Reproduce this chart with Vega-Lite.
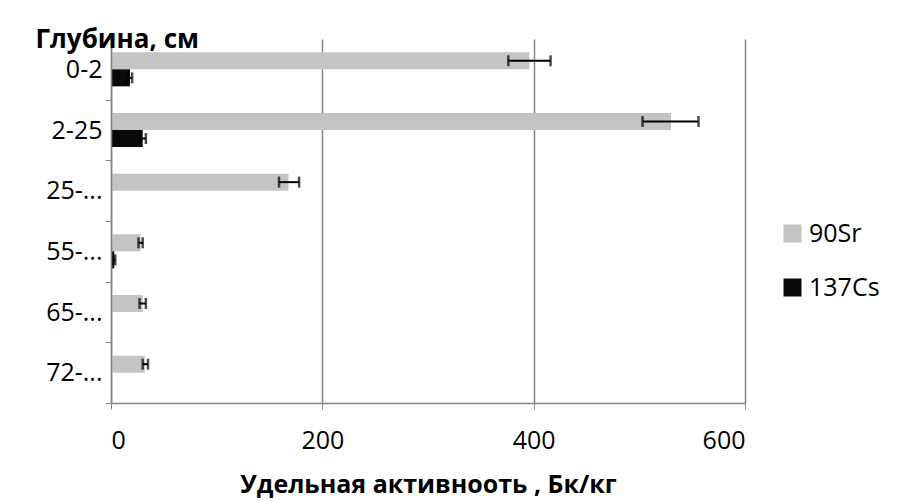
{
  "$schema": "https://vega.github.io/schema/vega-lite/v6.json",
  "width": 634,
  "height": 364,
  "autosize": {"type": "none"},
  "padding": {"left": 111, "top": 39, "right": 153, "bottom": 98},
  "background": "white",
  "config": {"view": {"stroke": null}, "font": "Open Sans"},
  "data": {
    "values": [
      {"depth": "0-2", "series": "90Sr", "value": 396, "lo": 376, "hi": 416},
      {"depth": "0-2", "series": "137Cs", "value": 18, "lo": 16, "hi": 20},
      {"depth": "2-25", "series": "90Sr", "value": 530, "lo": 503, "hi": 556},
      {"depth": "2-25", "series": "137Cs", "value": 30, "lo": 27, "hi": 33},
      {"depth": "25-...", "series": "90Sr", "value": 168, "lo": 159, "hi": 178},
      {"depth": "55-...", "series": "90Sr", "value": 28, "lo": 26, "hi": 30},
      {"depth": "55-...", "series": "137Cs", "value": 3, "lo": 2, "hi": 4},
      {"depth": "65-...", "series": "90Sr", "value": 30, "lo": 27, "hi": 33},
      {"depth": "72-...", "series": "90Sr", "value": 32, "lo": 30, "hi": 35}
    ]
  },
  "encoding": {
    "y": {
      "field": "depth",
      "type": "nominal",
      "sort": ["0-2", "2-25", "25-...", "55-...", "65-...", "72-..."],
      "scale": {"paddingInner": 0, "paddingOuter": 0},
      "axis": {
        "title": "Глубина, см",
        "zindex": 1,
        "titleAngle": 0,
        "titleFontWeight": "bold",
        "titleFontSize": 26,
        "titleColor": "black",
        "titleAlign": "left",
        "titleBaseline": "middle",
        "titleX": -76,
        "titleY": 0,
        "labelFontSize": 25,
        "labelColor": "black",
        "labelPadding": 3,
        "domainColor": "#868686",
        "domainWidth": 1.5,
        "tickColor": "#868686",
        "tickSize": 6,
        "tickBand": "extent",
        "grid": false
      }
    },
    "yOffset": {
      "field": "series",
      "type": "nominal",
      "sort": ["90Sr", "137Cs"],
      "scale": {"paddingInner": 0, "paddingOuter": 0.78}
    }
  },
  "layer": [
    {
      "mark": {"type": "bar"},
      "encoding": {
        "x": {
          "field": "value",
          "type": "quantitative",
          "scale": {"domain": [0, 600], "nice": false},
          "axis": {
            "title": "Удельная активнооть , Бк/кг",
            "titleFontSize": 25,
            "titleFontWeight": "bold",
            "titleColor": "black",
            "titlePadding": 19,
            "values": [0, 200, 400, 600],
            "labelFontSize": 25,
            "labelColor": "black",
            "labelPadding": 19,
            "grid": true,
            "gridColor": "#868686",
            "gridWidth": 1.5,
            "domainColor": "#868686",
            "domainWidth": 1.5,
            "tickColor": "#868686",
            "tickSize": 6
          }
        },
        "color": {
          "field": "series",
          "type": "nominal",
          "scale": {"domain": ["90Sr", "137Cs"], "range": ["#c4c4c4", "#0a0a0a"]},
          "legend": {
            "orient": "none",
            "legendX": 669,
            "legendY": 182,
            "title": null,
            "padding": 0,
            "symbolType": "square",
            "symbolSize": 324,
            "symbolStrokeWidth": 0,
            "labelFontSize": 25,
            "labelColor": "black",
            "labelOffset": 4,
            "rowPadding": 28
          }
        }
      }
    },
    {
      "mark": {"type": "rule", "color": "black", "strokeWidth": 2},
      "encoding": {
        "x": {"field": "lo", "type": "quantitative"},
        "x2": {"field": "hi"}
      }
    },
    {
      "mark": {"type": "tick", "color": "black", "thickness": 2.5, "size": 11, "orient": "vertical"},
      "encoding": {"x": {"field": "lo", "type": "quantitative"}}
    },
    {
      "mark": {"type": "tick", "color": "black", "thickness": 2.5, "size": 11, "orient": "vertical"},
      "encoding": {"x": {"field": "hi", "type": "quantitative"}}
    }
  ]
}
